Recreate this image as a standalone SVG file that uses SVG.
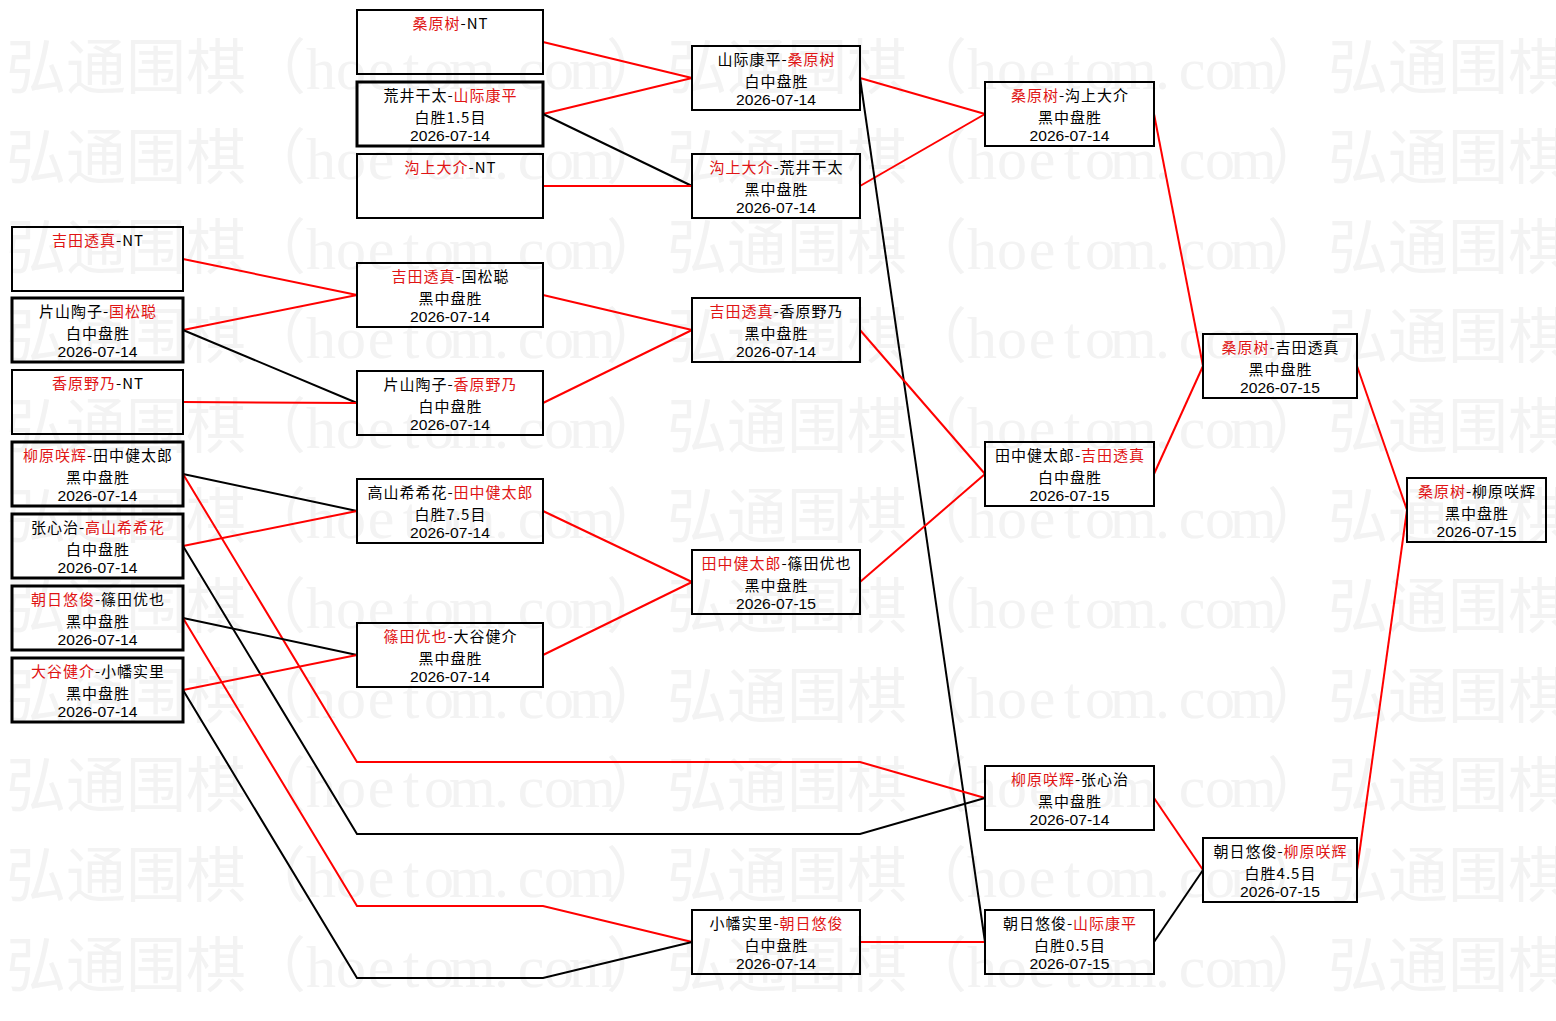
<svg xmlns="http://www.w3.org/2000/svg" xmlns:xlink="http://www.w3.org/1999/xlink" width="1556" height="1021" viewBox="0 0 1556 1021">
<style>
.bg{fill:#ffffff}
.wm{font-family:"Liberation Serif","Noto Sans CJK SC",serif;font-size:60px;fill:#f3f3f3}
.box{fill:none;stroke:#000;stroke-width:2}
.bx3{fill:none;stroke:#000;stroke-width:3}
.t{font-family:"Noto Sans CJK SC","Liberation Sans",sans-serif;font-size:15px;letter-spacing:1px;fill:#000;text-anchor:middle}
.d{font-family:"Liberation Sans",sans-serif;font-size:15px;fill:#000;text-anchor:middle}
.r{fill:#e01414}
.lr{fill:none;stroke:#ff0000;stroke-width:2}
.lb{fill:none;stroke:#000;stroke-width:2}
</style>
<defs>
<g id="wmrow">
<text class="wm" y="89" x="6 66 126 186 246 306 336 367.7 402.7 424 449 494 517.7 544 569 606 667 727 787 847 907 967 997 1028.7 1063.7 1085 1110 1155 1178.7 1205 1230 1267 1328 1388 1448 1508">弘通围棋（hoetom.com）弘通围棋（hoetom.com）弘通围棋</text>
</g>
</defs>
<rect class="bg" x="0" y="0" width="1556" height="1021"/>
<g id="watermark">
<use xlink:href="#wmrow" transform="translate(0,0)"/>
<use xlink:href="#wmrow" transform="translate(0,89.8)"/>
<use xlink:href="#wmrow" transform="translate(0,179.6)"/>
<use xlink:href="#wmrow" transform="translate(0,269.4)"/>
<use xlink:href="#wmrow" transform="translate(0,359.2)"/>
<use xlink:href="#wmrow" transform="translate(0,449)"/>
<use xlink:href="#wmrow" transform="translate(0,538.8)"/>
<use xlink:href="#wmrow" transform="translate(0,628.6)"/>
<use xlink:href="#wmrow" transform="translate(0,718.4)"/>
<use xlink:href="#wmrow" transform="translate(0,808.2)"/>
<use xlink:href="#wmrow" transform="translate(0,898)"/>
</g>
<g id="connectors">
<polyline class="lr" points="543,42 692,78"/>
<polyline class="lr" points="543,114 692,78"/>
<polyline class="lb" points="543,114 692,186"/>
<polyline class="lr" points="543,186 692,186"/>
<polyline class="lr" points="860,78 985,114"/>
<polyline class="lr" points="860,186 985,114"/>
<polyline class="lb" points="860,78 985,942"/>
<polyline class="lr" points="183,259 357,295"/>
<polyline class="lr" points="183,330 357,295"/>
<polyline class="lb" points="183,330 357,403"/>
<polyline class="lr" points="183,402 357,403"/>
<polyline class="lr" points="543,295 692,330"/>
<polyline class="lr" points="543,403 692,330"/>
<polyline class="lr" points="860,330 985,474"/>
<polyline class="lb" points="183,474 357,511"/>
<polyline class="lr" points="183,546 357,511"/>
<polyline class="lr" points="183,474 357,762 860,762 985,798"/>
<polyline class="lb" points="183,546 357,834 860,834 985,798"/>
<polyline class="lb" points="183,618 357,655"/>
<polyline class="lr" points="183,690 357,655"/>
<polyline class="lr" points="183,618 357,906 543,906 692,942"/>
<polyline class="lb" points="183,690 357,978 543,978 692,942"/>
<polyline class="lr" points="543,511 692,582"/>
<polyline class="lr" points="543,655 692,582"/>
<polyline class="lr" points="860,582 985,474"/>
<polyline class="lr" points="860,942 985,942"/>
<polyline class="lr" points="1154,114 1203,366"/>
<polyline class="lr" points="1154,474 1203,366"/>
<polyline class="lr" points="1154,798 1203,870"/>
<polyline class="lb" points="1154,942 1203,870"/>
<polyline class="lr" points="1357,366 1407,510"/>
<polyline class="lr" points="1357,870 1407,510"/>
</g>
<g id="A1"><rect class="box" x="12" y="227" width="171" height="64"/>
<text class="t" x="98" y="246"><tspan class="r">吉田透真</tspan>-NT</text></g>
<g id="A2"><rect class="bx3" x="12" y="298" width="171" height="64"/>
<text class="t" x="98" y="316.5">片山陶子-<tspan class="r">国松聪</tspan></text>
<text class="t" x="98" y="338.5">白中盘胜</text>
<text class="d" x="97.5" y="356.5" textLength="80" lengthAdjust="spacingAndGlyphs">2026-07-14</text></g>
<g id="A3"><rect class="box" x="12" y="370" width="171" height="64"/>
<text class="t" x="98" y="389"><tspan class="r">香原野乃</tspan>-NT</text></g>
<g id="A4"><rect class="bx3" x="12" y="442" width="171" height="64"/>
<text class="t" x="98" y="460.5"><tspan class="r">柳原咲辉</tspan>-田中健太郎</text>
<text class="t" x="98" y="482.5">黑中盘胜</text>
<text class="d" x="97.5" y="500.5" textLength="80" lengthAdjust="spacingAndGlyphs">2026-07-14</text></g>
<g id="A5"><rect class="bx3" x="12" y="514" width="171" height="64"/>
<text class="t" x="98" y="532.5">张心治-<tspan class="r">高山希希花</tspan></text>
<text class="t" x="98" y="554.5">白中盘胜</text>
<text class="d" x="97.5" y="572.5" textLength="80" lengthAdjust="spacingAndGlyphs">2026-07-14</text></g>
<g id="A6"><rect class="bx3" x="12" y="586" width="171" height="64"/>
<text class="t" x="98" y="604.5"><tspan class="r">朝日悠俊</tspan>-篠田优也</text>
<text class="t" x="98" y="626.5">黑中盘胜</text>
<text class="d" x="97.5" y="644.5" textLength="80" lengthAdjust="spacingAndGlyphs">2026-07-14</text></g>
<g id="A7"><rect class="bx3" x="12" y="658" width="171" height="64"/>
<text class="t" x="98" y="676.5"><tspan class="r">大谷健介</tspan>-小幡实里</text>
<text class="t" x="98" y="698.5">黑中盘胜</text>
<text class="d" x="97.5" y="716.5" textLength="80" lengthAdjust="spacingAndGlyphs">2026-07-14</text></g>
<g id="B1"><rect class="box" x="357" y="10" width="186" height="64"/>
<text class="t" x="450.5" y="29"><tspan class="r">桑原树</tspan>-NT</text></g>
<g id="B2"><rect class="bx3" x="357" y="82" width="186" height="64"/>
<text class="t" x="450.5" y="100.5">荒井干太-<tspan class="r">山际康平</tspan></text>
<text class="t" x="450.5" y="122.5">白胜1.5目</text>
<text class="d" x="450" y="140.5" textLength="80" lengthAdjust="spacingAndGlyphs">2026-07-14</text></g>
<g id="B3"><rect class="box" x="357" y="154" width="186" height="64"/>
<text class="t" x="450.5" y="173"><tspan class="r">沟上大介</tspan>-NT</text></g>
<g id="B4"><rect class="box" x="357" y="263" width="186" height="64"/>
<text class="t" x="450.5" y="281.5"><tspan class="r">吉田透真</tspan>-国松聪</text>
<text class="t" x="450.5" y="303.5">黑中盘胜</text>
<text class="d" x="450" y="321.5" textLength="80" lengthAdjust="spacingAndGlyphs">2026-07-14</text></g>
<g id="B5"><rect class="box" x="357" y="371" width="186" height="64"/>
<text class="t" x="450.5" y="389.5">片山陶子-<tspan class="r">香原野乃</tspan></text>
<text class="t" x="450.5" y="411.5">白中盘胜</text>
<text class="d" x="450" y="429.5" textLength="80" lengthAdjust="spacingAndGlyphs">2026-07-14</text></g>
<g id="B6"><rect class="box" x="357" y="479" width="186" height="64"/>
<text class="t" x="450.5" y="497.5">高山希希花-<tspan class="r">田中健太郎</tspan></text>
<text class="t" x="450.5" y="519.5">白胜7.5目</text>
<text class="d" x="450" y="537.5" textLength="80" lengthAdjust="spacingAndGlyphs">2026-07-14</text></g>
<g id="B7"><rect class="box" x="357" y="623" width="186" height="64"/>
<text class="t" x="450.5" y="641.5"><tspan class="r">篠田优也</tspan>-大谷健介</text>
<text class="t" x="450.5" y="663.5">黑中盘胜</text>
<text class="d" x="450" y="681.5" textLength="80" lengthAdjust="spacingAndGlyphs">2026-07-14</text></g>
<g id="C1"><rect class="box" x="692" y="46" width="168" height="64"/>
<text class="t" x="776.5" y="64.5">山际康平-<tspan class="r">桑原树</tspan></text>
<text class="t" x="776.5" y="86.5">白中盘胜</text>
<text class="d" x="776" y="104.5" textLength="80" lengthAdjust="spacingAndGlyphs">2026-07-14</text></g>
<g id="C2"><rect class="box" x="692" y="154" width="168" height="64"/>
<text class="t" x="776.5" y="172.5"><tspan class="r">沟上大介</tspan>-荒井干太</text>
<text class="t" x="776.5" y="194.5">黑中盘胜</text>
<text class="d" x="776" y="212.5" textLength="80" lengthAdjust="spacingAndGlyphs">2026-07-14</text></g>
<g id="C3"><rect class="box" x="692" y="298" width="168" height="64"/>
<text class="t" x="776.5" y="316.5"><tspan class="r">吉田透真</tspan>-香原野乃</text>
<text class="t" x="776.5" y="338.5">黑中盘胜</text>
<text class="d" x="776" y="356.5" textLength="80" lengthAdjust="spacingAndGlyphs">2026-07-14</text></g>
<g id="C4"><rect class="box" x="692" y="550" width="168" height="64"/>
<text class="t" x="776.5" y="568.5"><tspan class="r">田中健太郎</tspan>-篠田优也</text>
<text class="t" x="776.5" y="590.5">黑中盘胜</text>
<text class="d" x="776" y="608.5" textLength="80" lengthAdjust="spacingAndGlyphs">2026-07-15</text></g>
<g id="C5"><rect class="box" x="692" y="910" width="168" height="64"/>
<text class="t" x="776.5" y="928.5">小幡实里-<tspan class="r">朝日悠俊</tspan></text>
<text class="t" x="776.5" y="950.5">白中盘胜</text>
<text class="d" x="776" y="968.5" textLength="80" lengthAdjust="spacingAndGlyphs">2026-07-14</text></g>
<g id="D1"><rect class="box" x="985" y="82" width="169" height="64"/>
<text class="t" x="1070" y="100.5"><tspan class="r">桑原树</tspan>-沟上大介</text>
<text class="t" x="1070" y="122.5">黑中盘胜</text>
<text class="d" x="1069.5" y="140.5" textLength="80" lengthAdjust="spacingAndGlyphs">2026-07-14</text></g>
<g id="D2"><rect class="box" x="985" y="442" width="169" height="64"/>
<text class="t" x="1070" y="460.5">田中健太郎-<tspan class="r">吉田透真</tspan></text>
<text class="t" x="1070" y="482.5">白中盘胜</text>
<text class="d" x="1069.5" y="500.5" textLength="80" lengthAdjust="spacingAndGlyphs">2026-07-15</text></g>
<g id="D3"><rect class="box" x="985" y="766" width="169" height="64"/>
<text class="t" x="1070" y="784.5"><tspan class="r">柳原咲辉</tspan>-张心治</text>
<text class="t" x="1070" y="806.5">黑中盘胜</text>
<text class="d" x="1069.5" y="824.5" textLength="80" lengthAdjust="spacingAndGlyphs">2026-07-14</text></g>
<g id="D4"><rect class="box" x="985" y="910" width="169" height="64"/>
<text class="t" x="1070" y="928.5">朝日悠俊-<tspan class="r">山际康平</tspan></text>
<text class="t" x="1070" y="950.5">白胜0.5目</text>
<text class="d" x="1069.5" y="968.5" textLength="80" lengthAdjust="spacingAndGlyphs">2026-07-15</text></g>
<g id="E1"><rect class="box" x="1203" y="334" width="154" height="64"/>
<text class="t" x="1280.5" y="352.5"><tspan class="r">桑原树</tspan>-吉田透真</text>
<text class="t" x="1280.5" y="374.5">黑中盘胜</text>
<text class="d" x="1280" y="392.5" textLength="80" lengthAdjust="spacingAndGlyphs">2026-07-15</text></g>
<g id="E2"><rect class="box" x="1203" y="838" width="154" height="64"/>
<text class="t" x="1280.5" y="856.5">朝日悠俊-<tspan class="r">柳原咲辉</tspan></text>
<text class="t" x="1280.5" y="878.5">白胜4.5目</text>
<text class="d" x="1280" y="896.5" textLength="80" lengthAdjust="spacingAndGlyphs">2026-07-15</text></g>
<g id="F1"><rect class="box" x="1407" y="478" width="139" height="64"/>
<text class="t" x="1477" y="496.5"><tspan class="r">桑原树</tspan>-柳原咲辉</text>
<text class="t" x="1477" y="518.5">黑中盘胜</text>
<text class="d" x="1476.5" y="536.5" textLength="80" lengthAdjust="spacingAndGlyphs">2026-07-15</text></g>
</svg>
